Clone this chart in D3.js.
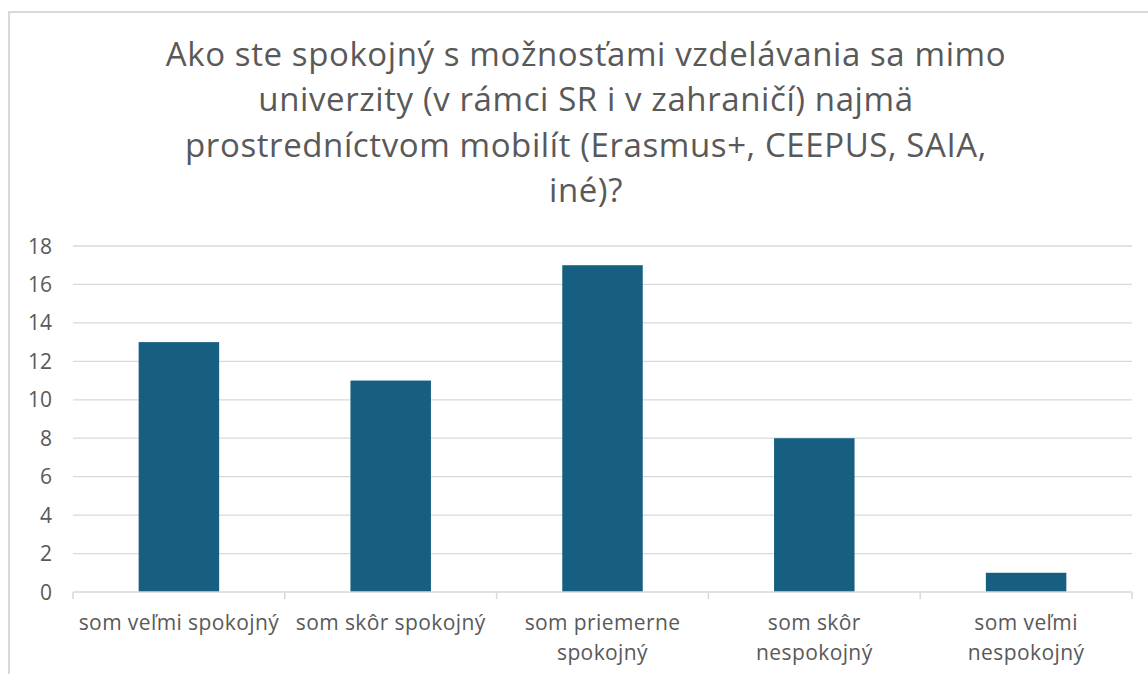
<!DOCTYPE html>
<html>
<head>
<meta charset="utf-8">
<script src="https://cdn.jsdelivr.net/npm/d3@7"></script>
<style>
  body { margin: 0; background: #fff; }
  text { font-family: "Open Sans", "Noto Sans", sans-serif; fill: #595959; }
</style>
</head>
<body>
<script>
// data
var categories = ["som veľmi spokojný", "som skôr spokojný", "som priemerne spokojný", "som skôr nespokojný", "som veľmi nespokojný"];
var categoryLines = [["som veľmi spokojný"], ["som skôr spokojný"], ["som priemerne", "spokojný"], ["som skôr", "nespokojný"], ["som veľmi", "nespokojný"]];
var values = [13, 11, 17, 8, 1];
var yTicks = [0, 2, 4, 6, 8, 10, 12, 14, 16, 18];
var titleLines = ["Ako ste spokojný s možnosťami vzdelávania sa mimo", "univerzity (v rámci SR i v zahraničí) najmä", "prostredníctvom mobilít (Erasmus+, CEEPUS, SAIA,", "iné)?"];

var svgWidth = 1148, svgHeight = 674;
var margin = {top: 246, right: 16, bottom: 82, left: 73};
var width = svgWidth - margin.left - margin.right;
var height = svgHeight - margin.top - margin.bottom;

var svg = d3.select("body").append("svg")
    .attr("width", svgWidth)
    .attr("height", svgHeight);

// chart frame (left + top edge visible)
svg.append("path")
  .attr("d", "M9,674 V12 H1148")
  .attr("fill", "none")
  .attr("stroke", "#d9d9d9")
  .attr("stroke-width", 2);

svg.selectAll(".title")
  .data(titleLines)
  .enter()
  .append("text")
  .attr("class", "title")
  .attr("x", 586)
  .attr("y", function(d, i){ return 66 + i * 45.3; })
  .attr("text-anchor", "middle")
  .attr("font-size", "33px")
  .attr("letter-spacing", "0.6px")
  .text(function(d){ return d; });

var g = svg.append("g")
    .attr("transform", "translate(" + margin.left + "," + margin.top + ")");

var x = d3.scaleBand()
    .domain(categories)
    .range([0, width])
    .paddingInner(0.62)
    .paddingOuter(0.31);

var y = d3.scaleLinear()
    .domain([0, 18])
    .range([height, 0]);

// gridlines
g.selectAll(".grid")
  .data(yTicks.filter(function(d){ return d > 0; }))
  .enter()
  .append("line")
  .attr("x1", 0)
  .attr("x2", width)
  .attr("y1", function(d){ return y(d); })
  .attr("y2", function(d){ return y(d); })
  .attr("stroke", "#d9d9d9")
  .attr("stroke-width", 1.3);

// y labels
g.selectAll(".ylab")
  .data(yTicks)
  .enter()
  .append("text")
  .attr("x", -21)
  .attr("y", function(d){ return y(d); })
  .attr("dy", "0.36em")
  .attr("text-anchor", "end")
  .attr("font-size", "21px")
  .text(function(d){ return d; });

// bars
g.selectAll(".bar")
  .data(values)
  .enter()
  .append("rect")
  .attr("class", "bar")
  .attr("fill", "#175f80")
  .attr("x", function(d, i){ return x(categories[i]); })
  .attr("width", x.bandwidth())
  .attr("y", function(d){ return y(d); })
  .attr("height", function(d){ return height - y(d); });

// x axis line and category separators
var step = x.step();
g.append("line")
  .attr("x1", 0).attr("x2", width)
  .attr("y1", height).attr("y2", height)
  .attr("stroke", "#d9d9d9")
  .attr("stroke-width", 1.5);

g.selectAll(".tick")
  .data(d3.range(categories.length + 1))
  .enter()
  .append("line")
  .attr("x1", function(d){ return d * step; })
  .attr("x2", function(d){ return d * step; })
  .attr("y1", height)
  .attr("y2", height + 7)
  .attr("stroke", "#d9d9d9")
  .attr("stroke-width", 1.5);

// category labels
var labels = g.selectAll(".xlab")
  .data(categoryLines)
  .enter()
  .append("text")
  .attr("text-anchor", "middle")
  .attr("font-size", "21px")
  .attr("letter-spacing", "0.4px")
  .attr("transform", function(d, i){
    return "translate(" + (x(categories[i]) + x.bandwidth() / 2) + "," + (height + 38) + ")";
  });

labels.selectAll("tspan")
  .data(function(d){ return d; })
  .enter()
  .append("tspan")
  .attr("x", 0)
  .attr("dy", function(d, i){ return i == 0 ? 0 : 30; })
  .text(function(d){ return d; });
</script>
</body>
</html>
